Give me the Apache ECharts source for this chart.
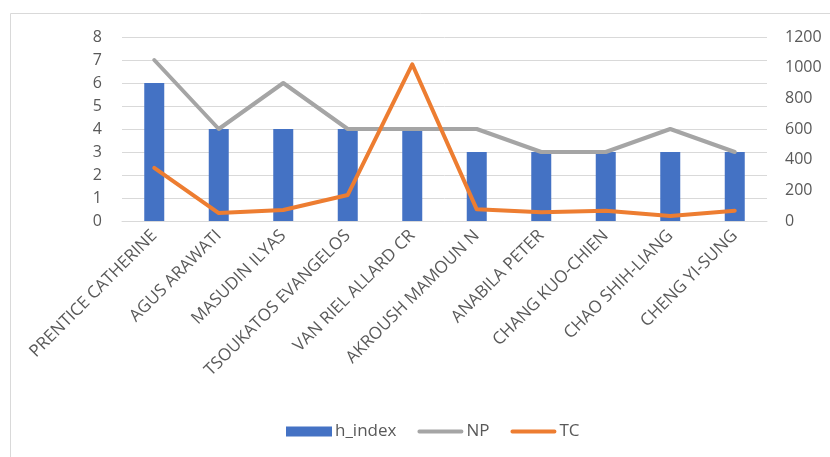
<!DOCTYPE html>
<html>
<head>
<meta charset="utf-8">
<script src="https://cdn.jsdelivr.net/npm/echarts@6/dist/echarts.min.js"></script>
<style>
  html, body { margin: 0; padding: 0; background: #ffffff; }
  #chart { width: 830px; height: 457px; }
</style>
</head>
<body>
<div id="chart"></div>
<script>
// Author names on the category axis
const authors = [
  'PRENTICE CATHERINE', 'AGUS ARAWATI', 'MASUDIN ILYAS', 'TSOUKATOS EVANGELOS',
  'VAN RIEL ALLARD CR', 'AKROUSH MAMOUN N', 'ANABILA PETER', 'CHANG KUO-CHIEN',
  'CHAO SHIH-LIANG', 'CHENG YI-SUNG'
];
// h-index per author (bars, left axis)
const hIndex = [6, 4, 4, 4, 4, 3, 3, 3, 3, 3];
// number of papers (grey line, left axis)
const np = [7, 4, 6, 4, 4, 4, 3, 3, 4, 3];
// total citations (orange line, right axis)
const tc = [346, 52, 72, 170, 1022, 76, 57, 67, 33, 67];

const textColor = '#595959';
const fontFamily = '"Open Sans", "Noto Sans", sans-serif';
const lineIcon = 'path://M2,0H46A2,2 0 0 1 46,4H2A2,2 0 0 1 2,0Z';

const chart = echarts.init(document.getElementById('chart'), null, { renderer: 'canvas' });
chart.setOption({
  animation: false,
  textStyle: { fontFamily: fontFamily, color: textColor },
  graphic: [{
    type: 'rect',
    shape: { x: 10.5, y: 13.5, width: 840, height: 460 },
    style: { fill: 'none', stroke: '#d9d9d9', lineWidth: 1 },
    silent: true
  }],
  grid: { left: 122, right: 63, top: 37, bottom: 236 },
  legend: {
    bottom: 12,
    left: 281,
    itemGap: 21,
    itemWidth: 46,
    itemHeight: 10,
    textStyle: { fontSize: 17, color: textColor, fontFamily: fontFamily, padding: [0, 0, 0, -2] },
    data: [
      { name: 'h_index', icon: 'rect' },
      { name: 'NP', icon: lineIcon },
      { name: 'TC', icon: lineIcon }
    ]
  },
  xAxis: {
    type: 'category',
    data: authors,
    axisTick: { show: false },
    axisLine: { show: true, lineStyle: { color: '#d9d9d9' } },
    axisLabel: {
      rotate: 45,
      interval: 0,
      fontSize: 17,
      color: textColor,
      margin: 12
    }
  },
  yAxis: [{
    type: 'value',
    min: 0, max: 8, interval: 1,
    axisLine: { show: false },
    axisTick: { show: false },
    axisLabel: { fontSize: 16, color: textColor, margin: 20 },
    splitLine: { lineStyle: { color: '#d9d9d9', width: 1 } }
  }, {
    type: 'value',
    min: 0, max: 1200, interval: 200,
    axisLine: { show: false },
    axisTick: { show: false },
    axisLabel: { fontSize: 16, color: textColor, margin: 18, formatter: v => String(v) },
    splitLine: { show: false }
  }],
  series: [{
    name: 'h_index',
    type: 'bar',
    yAxisIndex: 0,
    data: hIndex,
    barWidth: 20,
    itemStyle: { color: '#4472c4' }
  }, {
    name: 'NP',
    type: 'line',
    yAxisIndex: 0,
    data: np,
    symbol: 'none',
    lineStyle: { color: '#a5a5a5', width: 4, join: 'round', cap: 'round' },
    itemStyle: { color: '#a5a5a5' }
  }, {
    name: 'TC',
    type: 'line',
    yAxisIndex: 1,
    data: tc,
    symbol: 'none',
    lineStyle: { color: '#ed7d31', width: 4, join: 'round', cap: 'round' },
    itemStyle: { color: '#ed7d31' }
  }]
});
</script>
</body>
</html>
